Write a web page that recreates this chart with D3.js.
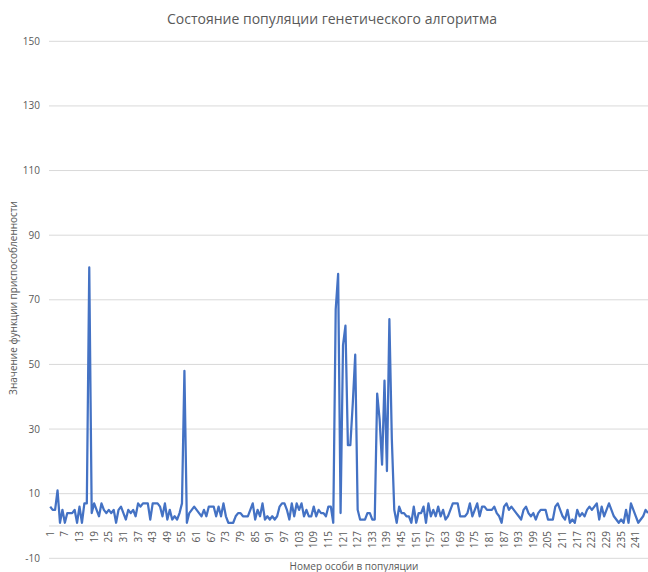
<!DOCTYPE html>
<html>
<head>
<meta charset="utf-8">
<script src="https://cdn.jsdelivr.net/npm/d3@7"></script>
<style>
  html, body { margin: 0; padding: 0; background: #fff; }
  svg { display: block; }
  text { font-family: "Open Sans", "Liberation Sans", sans-serif; fill: #595959; }
</style>
</head>
<body>
<svg id="chart" width="648" height="572"></svg>
<script>
// Fitness value of each individual in the population (individuals 1..246)
const fitness = [
  6, 5, 5, 11, 1, 5, 1, 4, 4, 4,
  5, 1, 6, 1, 7, 7, 80, 4, 7, 5,
  3, 7, 5, 4, 5, 4, 5, 1, 5, 6,
  4, 2, 5, 4, 5, 3, 7, 6, 7, 7,
  7, 2, 7, 7, 7, 6, 3, 7, 2, 5,
  2, 3, 2, 4, 7, 48, 1, 4, 5, 6,
  5, 4, 3, 5, 3, 6, 6, 6, 3, 6,
  3, 7, 3, 1, 1, 1, 3, 4, 4, 3,
  3, 3, 5, 7, 2, 5, 3, 7, 2, 3,
  2, 3, 2, 3, 6, 7, 7, 5, 2, 7,
  3, 7, 5, 7, 3, 5, 3, 3, 6, 3,
  5, 4, 4, 3, 6, 6, 1, 67, 78, 4,
  56, 62, 25, 25, 38, 53, 5, 2, 2, 2,
  4, 4, 2, 2, 41, 33, 19, 45, 17, 64,
  27, 5, 1, 6, 4, 4, 3, 3, 1, 6,
  1, 4, 4, 6, 1, 7, 3, 5, 3, 6,
  3, 5, 2, 3, 5, 7, 7, 7, 3, 3,
  3, 4, 7, 3, 5, 7, 3, 6, 6, 5,
  5, 5, 6, 4, 3, 1, 6, 7, 5, 6,
  5, 4, 3, 2, 5, 6, 4, 3, 4, 2,
  4, 5, 5, 5, 2, 2, 2, 6, 7, 5,
  3, 2, 5, 1, 2, 1, 5, 3, 4, 3,
  5, 6, 5, 6, 7, 2, 6, 3, 5, 7,
  5, 3, 2, 1, 2, 1, 5, 1, 7, 5,
  3, 1, 2, 3, 5, 4
];
const individuals = fitness.map((_, i) => i + 1);
const yTicks = [-10, 10, 30, 50, 70, 90, 110, 130, 150];
const xLabelEvery = 6;

const title = "Состояние популяции генетического алгоритма";
const yTitle = "Значение функции приспособленности";
const xTitle = "Номер особи в популяции";

const svg = d3.select("#chart");
const plotLeft = 49;
const step = 2.44;
const plotRight = plotLeft + step * individuals.length;
const plotTop = 41.3;
const plotBottom = 558.3;

const x = d3.scaleBand().domain(individuals).range([plotLeft, plotRight]).paddingInner(0).paddingOuter(0);
const cx = d => x(d) + x.bandwidth() / 2;
const y = d3.scaleLinear().domain([-10, 150]).range([plotBottom, plotTop]);

// horizontal gridlines
svg.append("g")
  .selectAll("line")
  .data(yTicks)
  .join("line")
  .attr("x1", plotLeft).attr("x2", plotRight)
  .attr("y1", d => y(d)).attr("y2", d => y(d))
  .attr("stroke", "#d9d9d9").attr("stroke-width", 1);

// category axis crossing at zero
svg.append("line")
  .attr("x1", plotLeft).attr("x2", plotRight)
  .attr("y1", y(0)).attr("y2", y(0))
  .attr("stroke", "#d9d9d9").attr("stroke-width", 1);

// value axis labels
svg.append("g")
  .selectAll("text")
  .data(yTicks)
  .join("text")
  .attr("x", 40).attr("y", d => y(d))
  .attr("dy", "0.35em")
  .attr("text-anchor", "end")
  .attr("font-size", 10)
  .text(d => d);

// category labels, rotated
const xLabels = individuals.filter(d => (d - 1) % xLabelEvery === 0);
svg.append("g")
  .selectAll("text")
  .data(xLabels)
  .join("text")
  .attr("transform", d => `translate(${cx(d) + 3.5},${y(0) + 5}) rotate(-90)`)
  .attr("text-anchor", "end")
  .attr("font-size", 10)
  .text(d => d);

// fitness line
const line = d3.line().x(d => cx(d[0])).y(d => y(d[1]));
svg.append("path")
  .datum(individuals.map((d, i) => [d, fitness[i]]))
  .attr("d", line)
  .attr("fill", "none")
  .attr("stroke", "#4472C4")
  .attr("stroke-width", 2.25)
  .attr("stroke-linejoin", "round");

// titles
svg.append("text")
  .attr("x", 332).attr("y", 24)
  .attr("text-anchor", "middle")
  .attr("font-size", 14)
  .text(title);

svg.append("text")
  .attr("transform", `translate(17,298) rotate(-90)`)
  .attr("text-anchor", "middle")
  .attr("font-size", 10)
  .text(yTitle);

svg.append("text")
  .attr("x", 354).attr("y", 570)
  .attr("text-anchor", "middle")
  .attr("font-size", 10)
  .text(xTitle);
</script>
</body>
</html>
